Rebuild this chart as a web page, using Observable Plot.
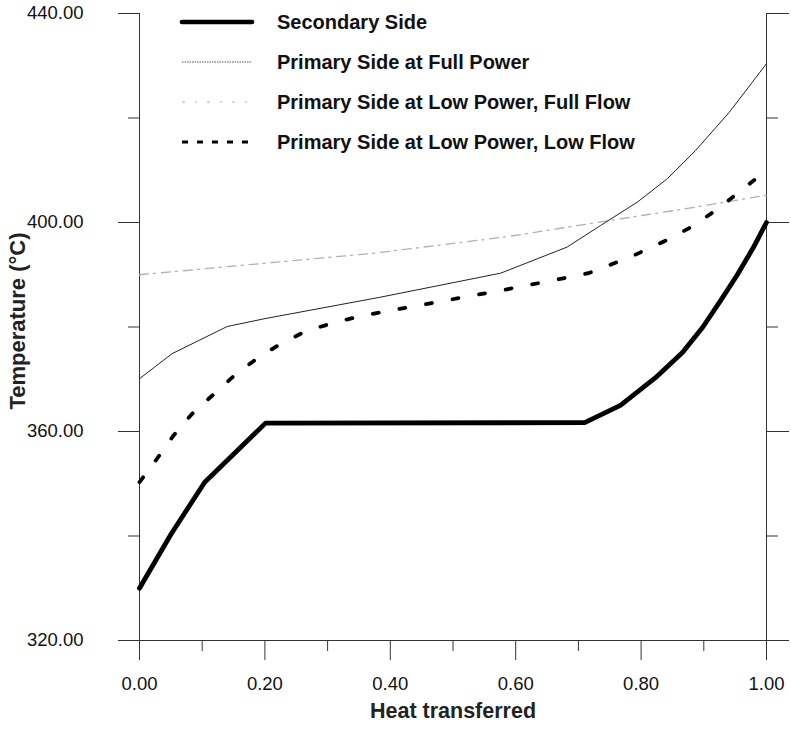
<!DOCTYPE html>
<html>
<head>
<meta charset="utf-8">
<script src="https://cdn.jsdelivr.net/npm/d3@7"></script>
<script src="https://cdn.jsdelivr.net/npm/@observablehq/plot@0.6"></script>
<style>
  html, body { margin: 0; padding: 0; background: #fff; }
  #wrap { position: relative; width: 791px; height: 731px; font-family: "Liberation Sans", Arial, Helvetica, sans-serif; }
  #legend { position: absolute; left: 0; top: 0; }
</style>
</head>
<body>
<div id="wrap"></div>
<script>
// ---- data ----
const seriesNames = [
  "Secondary Side",
  "Primary Side at Full Power",
  "Primary Side at Low Power, Full Flow",
  "Primary Side at Low Power, Low Flow"
];

const secondaryX = [0, 0.05, 0.104, 0.201, 0.71, 0.767, 0.823, 0.866, 0.898, 0.927, 0.953, 0.979, 1.0];
const secondaryT = [330, 340.3, 350.3, 361.6, 361.7, 365, 370.3, 375.1, 379.9, 385.1, 389.9, 395.2, 400];

const fullPowerX = [0, 0.052, 0.14, 0.2, 0.384, 0.576, 0.682, 0.735, 0.794, 0.842, 0.887, 0.94, 1.0];
const fullPowerT = [370.1, 374.9, 380.1, 381.6, 385.7, 390.3, 395.3, 399.4, 403.9, 408.4, 413.8, 421.0, 430.4];

const lowFullFlowX = [0, 0.2, 0.373, 0.587, 0.735, 0.874, 0.979, 1.0];
const lowFullFlowT = [390.0, 392.2, 394.1, 397.3, 400.1, 402.7, 404.8, 405.2];

const lowLowFlowX = [0, 0.028, 0.054, 0.084, 0.119, 0.153, 0.19, 0.227, 0.267, 0.313, 0.357, 0.581, 0.671, 0.716, 0.783, 0.844, 0.884, 0.921, 0.958, 1.0];
const lowLowFlowT = [350.3, 354.8, 359.2, 363.4, 367.2, 370.9, 374.2, 376.9, 379.3, 380.9, 382.2, 387.1, 389.2, 390.3, 393.4, 396.8, 399.4, 402.5, 406.0, 410.0];

const xMajorTicks = [0, 0.2, 0.4, 0.6, 0.8, 1.0];
const xMinorTicks = [0.1, 0.3, 0.5, 0.7, 0.9];
const yMajorTicks = [320, 360, 400, 440];
const yMinorTicks = [340, 380, 420];

const xLabel = "Heat transferred";
const yLabel = "Temperature (°C)";

// ---- build tables ----
const toRows = (xs, ts) => xs.map((x, i) => ({x, t: ts[i]}));
const secondary = toRows(secondaryX, secondaryT);
const fullPower = toRows(fullPowerX, fullPowerT);
const lowFull = toRows(lowFullFlowX, lowFullFlowT);
const lowLow = toRows(lowLowFlowX, lowLowFlowT);

const styles = [
  {stroke: "#000", strokeWidth: 4.8, strokeDasharray: null},
  {stroke: "#222", strokeWidth: 1, strokeDasharray: null},
  {stroke: "#b0b0b0", strokeWidth: 1.3, strokeDasharray: "9,5,2,6"},
  {stroke: "#000", strokeWidth: 3.8, strokeDasharray: "6,21"}
];
const legendDash = [null, "1.5,1", "3,10,2,10", "6,9"];

const fmt = d3.format(".2f");
const axisColor = "#333";

const chart = Plot.plot({
  width: 791,
  height: 731,
  marginLeft: 139,
  marginRight: 25,
  marginTop: 13,
  marginBottom: 91,
  style: {fontFamily: '"Liberation Sans", Arial, Helvetica, sans-serif', color: axisColor, background: "#fff"},
  x: {domain: [0, 1]},
  y: {domain: [320, 440]},
  marks: [
    Plot.axisX({ticks: xMajorTicks, tickSize: 20, tickPadding: 16, tickFormat: fmt, fontSize: 18.5, label: null, stroke: axisColor, fill: "#111"}),
    Plot.axisX({ticks: xMinorTicks, tickSize: 11, text: null, label: null, stroke: axisColor}),
    Plot.axisY({ticks: yMajorTicks, tickSize: 21, tickPadding: 35, tickFormat: fmt, fontSize: 18.5, label: null, stroke: axisColor, fill: "#111"}),
    Plot.axisY({ticks: yMinorTicks, tickSize: 11, text: null, label: null, stroke: axisColor}),
    Plot.axisY({anchor: "right", ticks: yMajorTicks, tickSize: 22, text: null, label: null, stroke: axisColor}),
    Plot.axisY({anchor: "right", ticks: yMinorTicks, tickSize: 11, text: null, label: null, stroke: axisColor}),
    Plot.ruleX([0, 1], {stroke: axisColor, strokeWidth: 1}),
    Plot.ruleY([320], {stroke: axisColor, strokeWidth: 1}),
    Plot.line(lowFull, {x: "x", y: "t", ...styles[2]}),
    Plot.line(fullPower, {x: "x", y: "t", ...styles[1]}),
    Plot.line(lowLow, {x: "x", y: "t", ...styles[3]}),
    Plot.line(secondary, {x: "x", y: "t", ...styles[0], strokeLinejoin: "round", strokeLinecap: "round"}),
    Plot.text([xLabel], {frameAnchor: "bottom", dy: 77, fontSize: 21.5, fontWeight: "bold", fill: "#222"}),
    Plot.text([yLabel], {frameAnchor: "left", textAnchor: "middle", dx: -122, dy: -6, rotate: -90, fontSize: 22, fontWeight: "bold", fill: "#222"})
  ]
});

const wrap = document.getElementById("wrap");
wrap.appendChild(chart);

// ---- legend overlay ----
const leg = d3.select(wrap).append("svg")
  .attr("id", "legend").attr("width", 791).attr("height", 170);
const rowY = [22, 62, 102, 142];
seriesNames.forEach((name, i) => {
  const g = leg.append("g").attr("transform", `translate(0,${rowY[i]})`);
  g.append("line")
    .attr("x1", 182).attr("x2", 252).attr("y1", 0).attr("y2", 0)
    .attr("stroke", i === 1 ? "#555" : styles[i].stroke)
    .attr("stroke-width", i === 0 ? 4.6 : i === 3 ? 3.2 : 1.2)
    .attr("stroke-linecap", i === 0 ? "round" : "butt")
    .attr("stroke-dasharray", legendDash[i]);
  g.append("text")
    .attr("x", 277).attr("y", 0).attr("dy", "0.36em")
    .attr("font-family", '"Liberation Sans", Arial, Helvetica, sans-serif')
    .attr("font-size", 20).attr("font-weight", "bold").attr("fill", "#111")
    .text(name);
});
</script>
</body>
</html>
